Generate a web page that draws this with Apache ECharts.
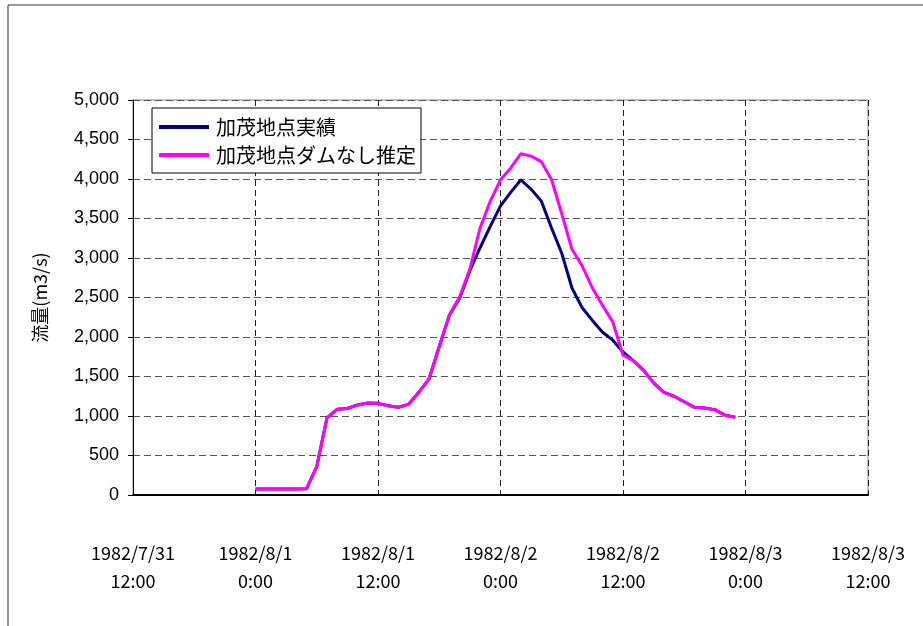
<!DOCTYPE html>
<html><head><meta charset="utf-8">
<script src="https://cdn.jsdelivr.net/npm/echarts@6/dist/echarts.min.js"></script>
<style>html,body{margin:0;padding:0;background:#fff}#c{width:923px;height:626px}</style>
</head><body><div id="c"></div>
<script>
// hours since 1982/8/1 0:00
const hours = [0,1,2,3,4,5,6,7,8,9,10,11,12,13,14,15,16,17,18,19,20,21,22,23,24,25,26,27,28,29,30,31,32,33,34,35,36,37,38,39,40,41,42,43,44,45,46,47];
const actual = [75,75,75,75,75,80,360,975,1085,1095,1140,1165,1160,1130,1110,1150,1300,1470,1880,2280,2490,2840,3130,3400,3660,3830,3990,3870,3720,3380,3060,2620,2370,2210,2060,1960,1810,1700,1580,1420,1300,1250,1180,1110,1100,1080,1010,983];
const noDam = [75,75,75,75,75,80,360,975,1085,1095,1140,1165,1160,1130,1110,1150,1300,1470,1880,2280,2510,2860,3380,3720,3990,4140,4320,4290,4220,3990,3560,3110,2900,2620,2400,2190,1770,1700,1580,1420,1300,1250,1180,1110,1100,1080,1010,983];
const xTickValues = [-12,0,12,24,36,48,60];
const xTickLabels = ['1982/7/31\n12:00','1982/8/1\n0:00','1982/8/1\n12:00','1982/8/2\n0:00','1982/8/2\n12:00','1982/8/3\n0:00','1982/8/3\n12:00'];
const seriesNames = ['加茂地点実績','加茂地点ダムなし推定'];

const chart = echarts.init(document.getElementById('c'));
const pairs = arr => hours.map((h,i)=>[h,arr[i]]);
chart.setOption({
  animation:false,
  backgroundColor:'#fff',
  graphic:[{type:'rect',shape:{x:8,y:5,width:1000,height:700},style:{fill:'none',stroke:'#333',lineWidth:1},silent:true}],
  grid:{left:133,top:100,right:55,bottom:131,show:true,borderColor:'#888',borderWidth:1},
  legend:{
    left:152,top:108,orient:'vertical',
    data:seriesNames.map(n=>({name:n,icon:'rect'})),
    backgroundColor:'#fff',borderColor:'#000',borderWidth:1,
    padding:[8,5,7,7],itemGap:6,itemWidth:50,itemHeight:4,
    textStyle:{fontFamily:'Noto Sans CJK JP',fontSize:20,lineHeight:22,color:'#000',padding:[0,0,0,2]}
  },
  xAxis:{
    type:'value',min:-12,max:60,interval:12,
    axisLine:{show:true,onZero:false,lineStyle:{color:'#000',width:2}},
    axisTick:{show:false},
    axisLabel:{margin:44,lineHeight:28,color:'#000',fontFamily:'Noto Sans CJK JP',fontSize:18,
      formatter:v=>{const i=xTickValues.indexOf(v);return i>=0?xTickLabels[i]:'';}},
    splitLine:{show:true,lineStyle:{color:'#222',type:[6,4],width:1}}
  },
  yAxis:{
    type:'value',min:0,max:5000,interval:500,
    name:'流量(m3/s)',nameLocation:'middle',nameGap:84,nameRotate:90,
    nameTextStyle:{fontFamily:'Noto Sans CJK JP',fontSize:18,color:'#000'},
    axisLine:{show:true,onZero:false,lineStyle:{color:'#000',width:1}},
    axisTick:{show:true,length:5,lineStyle:{color:'#000'}},
    axisLabel:{margin:14,color:'#000',fontFamily:'Liberation Sans',fontSize:18,
      formatter:v=>v.toLocaleString('en-US')},
    splitLine:{show:true,lineStyle:{color:'#555',type:[7,4],width:1}}
  },
  series:[
    {name:seriesNames[0],type:'line',data:pairs(actual),symbol:'none',z:3,
     lineStyle:{color:'#000080',width:3},itemStyle:{color:'#000080'}},
    {name:seriesNames[1],type:'line',data:pairs(noDam),symbol:'none',z:4,
     lineStyle:{color:'#ff00ff',width:3},itemStyle:{color:'#ff00ff'}}
  ]
});
</script></body></html>
